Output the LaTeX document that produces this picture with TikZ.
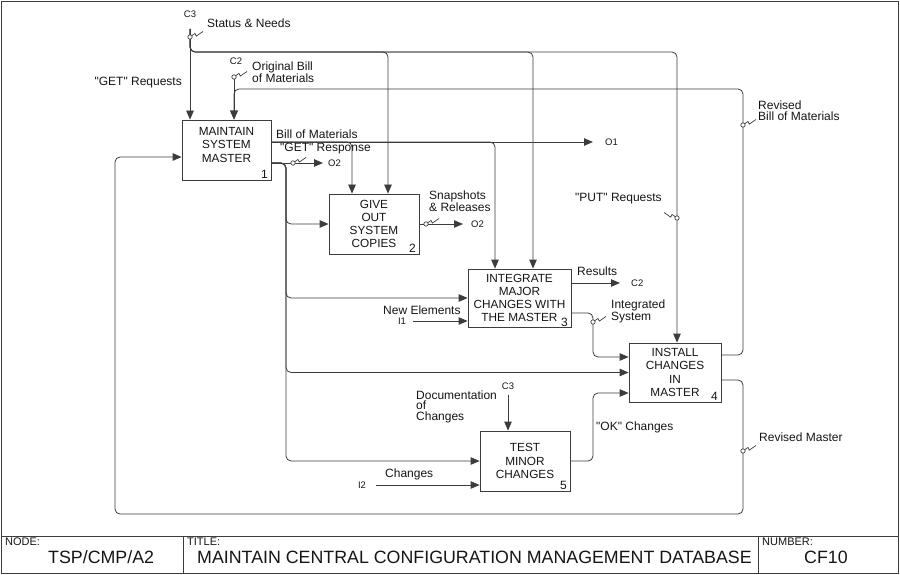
\documentclass[tikz,border=0pt]{standalone}
\usepackage{fontspec}
\setmainfont{Liberation Sans}[Ligatures=TeXOff]
\usetikzlibrary{arrows.meta,calc,positioning}
\definecolor{idefink}{HTML}{151515}
\definecolor{idefline}{HTML}{3C3C3C}
\tikzset{
  idefbox/.style={draw=idefline, line width=.8pt, fill=white, inner sep=0pt,
    minimum width=90pt, minimum height=60pt, align=center, text=idefink,
    font=\fontsize{11.8}{13.2}\selectfont},
  boxnum/.style={anchor=south east, inner xsep=3.5pt, inner ysep=2pt,
    text=idefink, font=\fontsize{12}{12}\selectfont},
  arrowtext/.style={inner sep=0pt, align=left, text=idefink,
    font=\fontsize{12}{10.5}\selectfont},
  tagtext/.style={inner sep=0pt, text=idefink, font=\fontsize{9.5}{10}\selectfont},
  smalltext/.style={inner sep=0pt, text=idefink, font=\fontsize{11}{11}\selectfont},
  bigtext/.style={inner sep=0pt, text=idefink, font=\fontsize{17.8}{18}\selectfont},
  idefflow/.style={draw=idefline, line width=.8pt, rounded corners=5pt,
    -{Triangle[length=9pt,width=7.5pt]}},
  ideframe/.style={draw=idefline, line width=.9pt},
  squig/.pic={
    \draw[idefline, line width=.7pt] (1.6,-1.1) -- (5,-3.6) -- (6.3,-0.9) -- (13,-5.5);
    \draw[idefline, line width=.7pt, fill=white] (0,0) circle (2.2);
  }
}

\begin{document}
\begin{tikzpicture}[x=1pt,y=-1pt]
  % IDEF0 node A2: five activities, boundary tags and the title block.
  \useasboundingbox (0,0) rectangle (900,575);
  \draw[ideframe] (1.5,1) rectangle (898,573);
  \draw[ideframe] (1.5,536) -- (898,536);
  \draw[ideframe] (183,536) -- (183,573);
  \draw[ideframe] (758,536) -- (758,573);

  \node[idefbox, minimum width=89pt] (b1) at (226.5,150) {MAINTAIN\\SYSTEM\\MASTER\\[-3pt]};
  \node[boxnum] at (b1.south east) {1};
  \node[idefbox] (b2) at (374,224) {GIVE\\OUT\\SYSTEM\\COPIES};
  \node[boxnum] at (b2.south east) {2};
  \node[idefbox, minimum width=103pt, minimum height=58pt] (b3) at (519.5,298)
    {INTEGRATE\\MAJOR\\CHANGES WITH\\THE MASTER};
  \node[boxnum, inner ysep=1pt] at (b3.south east) {3};
  \node[idefbox, minimum width=92pt, minimum height=59pt] (b4) at (675,372.5)
    {INSTALL\\CHANGES\\IN\\MASTER};
  \node[boxnum] at (b4.south east) {4};
  \node[idefbox] (b5) at (525,461) {TEST\\MINOR\\CHANGES};
  \node[boxnum] at (b5.south east) {5};

  \node[tagtext] (c3a) at (190,14) {C3};
  \node[arrowtext, anchor=west] (lstat) at (207,23.5) {Status \& Needs};
  \node[tagtext] (c2a) at (236,61) {C2};
  \node[arrowtext, anchor=west, font=\fontsize{12}{12}\selectfont] (lorig) at (252,72)
    {Original Bill\\of Materials};
  \node[arrowtext, anchor=east] (lgetq) at (182,83) {"GET" Requests};
  \node[arrowtext, anchor=west] (lbom) at (276,134) {Bill of Materials};
  \node[arrowtext, anchor=west] (lgetr) at (280,149) {"GET" Response};
  \node[tagtext, anchor=west] (o2a) at (328,163) {O2};
  \node[tagtext, anchor=west] (o1) at (605,142) {O1};
  \node[arrowtext, anchor=west] (lsnap) at (429,201) {Snapshots\\\& Releases};
  \node[tagtext, anchor=west] (o2b) at (471,224) {O2};
  \node[arrowtext, anchor=west] (lres) at (577,271) {Results};
  \node[tagtext, anchor=west] (c2b) at (631,283) {C2};
  \node[arrowtext, anchor=west] (lint) at (611,311) {Integrated\\System};
  \node[arrowtext, anchor=west] (lnew) at (383,310) {New Elements};
  \node[tagtext] (i1) at (402,321) {I1};
  \node[arrowtext, anchor=west] (lput) at (575,199) {"PUT" Requests};
  \node[arrowtext, anchor=west] (lrbom) at (758,110.5) {Revised\\Bill of Materials};
  \node[arrowtext, anchor=west] (lrmas) at (759,437) {Revised Master};
  \node[arrowtext, anchor=west] (lok) at (596,427) {"OK" Changes};
  \node[tagtext] (c3b) at (508,386) {C3};
  \node[arrowtext, anchor=west] (ldoc) at (416,406.5) {Documentation\\of\\Changes};
  \node[arrowtext, anchor=west] (lchg) at (385,474) {Changes};
  \node[tagtext] (i2) at (362,485) {I2};

  \coordinate (c3s) at (190,29);
  \coordinate (c2s) at (234,78);
  \coordinate (spine) at (286,163);

  % controls
  \draw[idefflow] (c3s) -- (c3s |- b1.north);
  \draw[idefflow] (c3s) |- (388,52) -- ([xshift=14pt]b2.north);
  \draw[idefflow] (c3s) |- (533,52) -- ([xshift=13.5pt]b3.north);
  \draw[idefflow] (c3s) |- (677,52) -- ([xshift=2pt]b4.north);
  \draw[idefflow] (c2s) -- (c2s |- b1.north);
  \draw[idefflow] ([yshift=17.5pt]b4.east) -| (743,89) -| ([xshift=7.5pt]b1.north);
  \draw[idefflow, shorten <=5pt] (c3b.south) -- (c3b.south |- b5.north);

  % outputs of box 1
  \draw[idefflow, shorten >=12pt] ([yshift=8pt]b1.east) -- (o1.west);
  \draw[idefflow] ([yshift=8pt]b1.east) -| ([xshift=-22pt]b2.north);
  \draw[idefflow] ([yshift=8pt]b1.east) -| ([xshift=-24.5pt]b3.north);
  \draw[idefflow, shorten >=5pt] ([yshift=-13pt]b1.east) -- (o2a.west);
  \draw[idefflow] ([yshift=-13pt]b1.east) -| (spine |- b2.west) -- (b2.west);
  \draw[idefflow] ([yshift=-13pt]b1.east) -| (spine |- b3.west) -- (b3.west);
  \draw[idefflow] ([yshift=-13pt]b1.east) -| (spine |- b4.west) -- (b4.west);
  \draw[idefflow] ([yshift=-13pt]b1.east) -| (spine |- b5.west) -- (b5.west);

  % remaining flows
  \draw[idefflow, shorten >=8pt] (b2.east) -- (o2b.west);
  \draw[idefflow, shorten >=11pt] ([yshift=15pt]b3.east) -- (c2b.west);
  \draw[idefflow] ([yshift=-15pt]b3.east) -- (593,313) -- (593,357) -- ([yshift=15.5pt]b4.west);
  \draw[idefflow, shorten <=7pt] (i1.east) -- (i1.east -| b3.west);
  \draw[idefflow] (b5.east) -- (593,461) -- (593,393) -- ([yshift=-20.5pt]b4.west);
  \draw[idefflow, shorten <=10pt] (i2.east) -- (i2.east -| b5.west);
  \draw[idefflow] ([yshift=-7.5pt]b4.east) -| (743,514) -- (115,514) |- ([yshift=-7pt]b1.west);

  % squiggles
  \pic at (190,37) {squig};
  \pic at (234,77) {squig};
  \pic at (293,163) {squig};
  \pic at (426,224) {squig};
  \pic at (593,322) {squig};
  \pic at (743,125) {squig};
  \pic at (743,451) {squig};
  \pic[xscale=-1] at (677,218) {squig};

  \node[smalltext, anchor=west] (nodehd) at (5,542) {NODE:};
  \node[bigtext, anchor=west] (nodeid) at (48,557) {TSP/CMP/A2};
  \node[smalltext, anchor=west] (titlehd) at (187,542) {TITLE:};
  \node[bigtext, anchor=west] (titletx) at (197,557)
    {MAINTAIN CENTRAL CONFIGURATION MANAGEMENT DATABASE};
  \node[smalltext, anchor=west] (numhd) at (762,542) {NUMBER:};
  \node[bigtext, anchor=west] (numid) at (804,557) {CF10};
\end{tikzpicture}
\end{document}
